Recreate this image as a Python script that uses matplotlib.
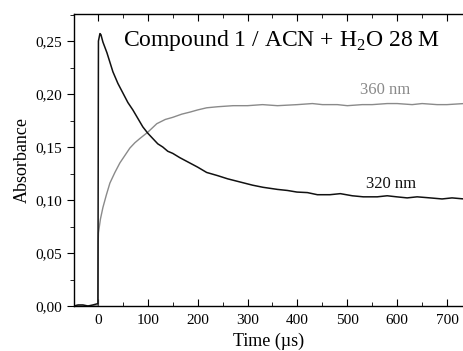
import matplotlib
matplotlib.use("Agg")
import matplotlib.pyplot as plt
from matplotlib.ticker import MultipleLocator, FixedLocator

# ---- data ----
t_320 = [-48, -40, -30, -20, -10, -2, 0, 1, 4, 6, 10, 18, 24, 30, 40, 50, 60, 70,
         80, 90, 100, 110, 120, 130, 140, 150, 164, 180, 200, 218, 240, 260, 285,
         310, 331, 360, 380, 399, 420, 440, 465, 486, 510, 532, 560, 580, 599,
         620, 640, 666, 690, 710, 734]
a_320 = [0.000, 0.001, 0.001, 0.000, 0.001, 0.002, 0.002, 0.250, 0.257, 0.256,
         0.249, 0.239, 0.230, 0.221, 0.210, 0.201, 0.192, 0.185, 0.177, 0.169,
         0.163, 0.158, 0.153, 0.150, 0.146, 0.144, 0.140, 0.136, 0.131, 0.126,
         0.123, 0.120, 0.117, 0.114, 0.112, 0.110, 0.109, 0.1075, 0.107, 0.105,
         0.105, 0.106, 0.104, 0.103, 0.103, 0.104, 0.103, 0.102, 0.103, 0.102,
         0.101, 0.102, 0.101]

t_360 = [-48, -2, 0, 0.5, 1, 5, 10, 17, 24, 34, 44, 54, 64, 74, 84, 100, 118, 135,
         150, 168, 185, 200, 218, 240, 271, 300, 330, 360, 400, 430, 450, 480,
         500, 530, 550, 580, 600, 630, 650, 680, 700, 734]
a_360 = [0.000, 0.000, 0.000, 0.060, 0.069, 0.082, 0.093, 0.105, 0.116, 0.126,
         0.135, 0.142, 0.149, 0.154, 0.158, 0.164, 0.172, 0.176, 0.178, 0.181,
         0.183, 0.185, 0.187, 0.188, 0.189, 0.189, 0.190, 0.189, 0.190, 0.191,
         0.190, 0.190, 0.189, 0.190, 0.190, 0.191, 0.191, 0.190, 0.191, 0.190,
         0.190, 0.191]

x_ticks = [0, 100, 200, 300, 400, 500, 600, 700]
x_tick_labels = ["0", "100", "200", "300", "400", "500", "600", "700"]
y_ticks = [0.00, 0.05, 0.10, 0.15, 0.20, 0.25]
y_tick_labels = ["0,00", "0,05", "0,10", "0,15", "0,20", "0,25"]

plt.rcParams['font.family'] = ['Liberation Serif', 'DejaVu Serif']
plt.rcParams['mathtext.fontset'] = 'custom'
plt.rcParams['mathtext.rm'] = 'Liberation Serif'

fig = plt.figure(figsize=(4.64, 3.51), dpi=100)
ax = fig.add_axes([74/464, 1-306/351, 1-74/464, (306-14)/351])

ax.plot(t_360, a_360, color='#8a8a8a', lw=1.0)
ax.plot(t_320, a_320, color='#111111', lw=1.1)

ax.set_xlim(-48, 734)
ax.set_ylim(0, 0.2755)

ax.spines['right'].set_visible(False)
for s in ['left', 'bottom', 'top']:
    ax.spines[s].set_linewidth(1.0)

ax.xaxis.set_major_locator(FixedLocator(x_ticks))
ax.set_xticklabels(x_tick_labels)
ax.xaxis.set_minor_locator(MultipleLocator(50))
ax.yaxis.set_major_locator(FixedLocator(y_ticks))
ax.set_yticklabels(y_tick_labels)
ax.yaxis.set_minor_locator(MultipleLocator(0.025))

ax.tick_params(axis='x', which='both', direction='in', top=True, bottom=True,
               labelsize=11, pad=6)
ax.tick_params(axis='x', which='major', length=5)
ax.tick_params(axis='x', which='minor', length=3)
ax.tick_params(axis='y', which='both', direction='out', right=False, labelsize=11)
ax.tick_params(axis='y', which='major', length=5)
ax.tick_params(axis='y', which='minor', length=3)

ax.set_xlabel("Time (µs)", fontsize=13, labelpad=4)
ax.set_ylabel("Absorbance", fontsize=13, labelpad=3)

ax.text(369, 0.2505, "Compound 1 / ACN + H$_2$O 28 M", fontsize=17,
        ha='center', va='center')
ax.text(576, 0.2035, "360 nm", fontsize=12, color='#8a8a8a', ha='center', va='center')
ax.text(587, 0.115, "320 nm", fontsize=12, color='#111111', ha='center', va='center')

fig.savefig("out.png", dpi=100)
